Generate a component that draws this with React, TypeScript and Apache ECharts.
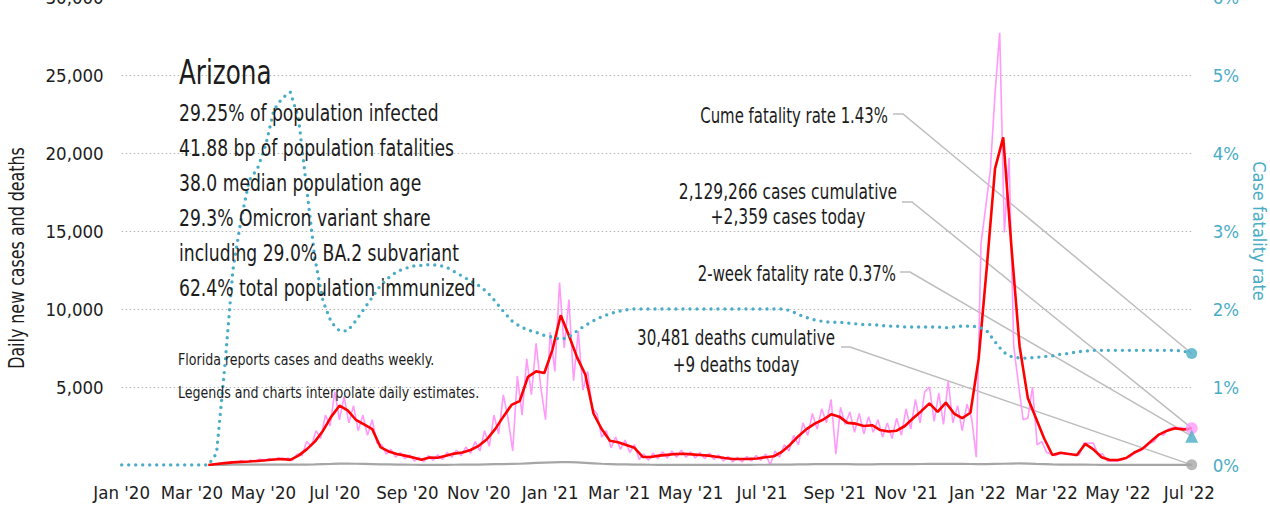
import React, { useEffect, useRef } from "react";
import * as echarts from "echarts";

const FONT = "'Liberation Sans Narrow', 'Arial Narrow', 'DejaVu Sans Condensed', sans-serif";
const TEAL = "#4aacc6";
const PINK = "#ff99fa";
const RED = "#ff0000";
const GRAY = "#a6a6a6";
const LEADER = "#bdbdbd";
const INK = "#1c1c1c";

const START_UTC = Date.UTC(2020, 0, 1);
const END_DAY = 914; // 2022-07-03

const tickDates = [
  "2020-01-01", "2020-03-01", "2020-05-01", "2020-07-01", "2020-09-01", "2020-11-01",
  "2021-01-01", "2021-03-01", "2021-05-01", "2021-07-01", "2021-09-01", "2021-11-01",
  "2022-01-01", "2022-03-01", "2022-05-01", "2022-07-01",
];
const tickLabels = [
  "Jan '20", "Mar '20", "May '20", "Jul '20", "Sep '20", "Nov '20",
  "Jan '21", "Mar '21", "May '21", "Jul '21", "Sep '21", "Nov '21",
  "Jan '22", "Mar '22", "May '22", "Jul '22",
];

// weekly series start on 2020-01-05 (day 4), step 7 days
const WEEK_START_DAY = 4;
// daily (raw) series sampled every 4 days from 2020-01-03 (day 2)
const RAW_START_DAY = 2;
const RAW_STEP = 4;

// 7-day average of new cases (weekly samples)
const casesAvg: (number | null)[] = [
  null, null, null, null, null, null, null, null, null, null,
  0, 60, 120, 170, 200, 220, 260, 300, 350, 380,
  330, 600, 1000, 1500, 2200, 3100, 3800, 3500, 2900, 2600,
  2300, 1150, 870, 700, 600, 480, 340, 480, 460, 600,
  730, 800, 960, 1230, 1650, 2300, 3100, 3850, 4100, 5650,
  6000, 5900, 7400, 9600, 8300, 6900, 5800, 3300, 2300, 1550,
  1460, 1280, 1100, 520, 510, 600, 650, 700, 720, 680,
  640, 600, 530, 450, 380, 380, 390, 420, 500, 560,
  850, 1300, 1850, 2300, 2650, 2900, 3250, 3100, 2700, 2650,
  2500, 2550, 2240, 2150, 2200, 2500, 3000, 3450, 3950, 3400,
  4000, 3300, 3000, 3350, 6800, 12700, 19000, 21000, 14000, 7600,
  4300, 3000, 1700, 640, 780, 700, 640, 1350, 1000, 500,
  320, 320, 450, 800, 1050, 1500, 1950, 2200, 2350, 2280,
  2360,
];

// raw daily new cases (every 4 days)
const casesDaily: (number | null)[] = [
  null, null, null, null, null, null, null, null, null, null,
  null, null, null, null, null, null, null, null, null, 0,
  80, 150, 120, 220, 160, 260, 180, 300, 220, 380,
  250, 420, 300, 480, 320, 450, 300, 700, 600, 1500,
  1200, 2200, 1700, 3200, 2500, 4700, 2900, 4400, 2700, 3800,
  2200, 3200, 1900, 2900, 1400, 1300, 700, 1000, 500, 800,
  400, 650, 250, 500, 200, 600, 300, 650, 350, 800,
  500, 950, 600, 1150, 750, 1500, 900, 2200, 1200, 3200,
  2000, 4500, 3000, 900, 5700, 3200, 6800, 4500, 7800, 5000,
  2900, 8500, 6000, 11700, 7500, 10600, 5400, 8600, 4800, 6000,
  3600, 3300, 1800, 2200, 1100, 1800, 1000, 1600, 800, 1300,
  350, 700, 300, 750, 400, 850, 450, 900, 500, 950,
  500, 850, 450, 800, 400, 750, 350, 650, 250, 550,
  200, 500, 200, 550, 250, 600, 300, 700, 0, 900,
  500, 1300, 900, 1900, 1300, 2700, 1900, 3300, 2300, 3600,
  2700, 4200, 700, 3700, 2600, 3400, 2100, 3300, 2000, 3100,
  2100, 2900, 1800, 2700, 1700, 3000, 1900, 3600, 2300, 4200,
  2700, 4700, 5000, 2800, 4600, 2600, 5400, 2700, 3800, 2200,
  3900, 3000, 500, 14200, 16500, 18900, 23800, 27700, 14900, 19700,
  7600, 5200, 2900, 3000, 5000, 1300, 1500, 800, 700, 600,
  750, 700, 750, 600, 650, 1400, 1400, 1400, 700, 700,
  250, 250, 250, 300, 450, 550, 800, 900, 1100, 1400,
  1500, 2000, 1900, 2300, 2400, 2400, 2400, 2200, 2359,
];

// daily deaths (weekly samples)
const deathsAvg: (number | null)[] = [
  null, null, null, null, null, null, null, null, null, null,
  0, 5, 10, 15, 20, 20, 20, 18, 20, 22,
  20, 25, 30, 40, 60, 70, 85, 90, 80, 70,
  60, 45, 35, 25, 20, 15, 10, 12, 10, 12,
  15, 20, 25, 30, 40, 50, 60, 70, 80, 110,
  130, 150, 170, 180, 190, 170, 140, 110, 80, 60,
  40, 35, 25, 20, 15, 10, 10, 10, 12, 10,
  10, 8, 8, 10, 10, 10, 12, 15, 15, 20,
  25, 30, 40, 45, 50, 50, 55, 50, 50, 45,
  45, 45, 50, 50, 55, 55, 60, 65, 70, 70,
  75, 70, 70, 65, 60, 60, 70, 80, 90, 100,
  90, 70, 60, 40, 30, 25, 20, 20, 15, 10,
  10, 8, 8, 5, 5, 5, 5, 5, 5, 5,
  9,
];

// case fatality rate, % (weekly samples)
const cfrPct: number[] = [
  0, 0, 0, 0, 0, 0, 0, 0, 0, 0,
  0, 0.15, 1.25, 2.5, 3.15, 3.65, 3.8, 4.1, 4.55, 4.7,
  4.78, 4.45, 3.55, 2.65, 2.1, 1.83, 1.72, 1.72, 1.85, 2.0,
  2.15, 2.3, 2.4, 2.48, 2.52, 2.55, 2.56, 2.57, 2.56, 2.54,
  2.48, 2.42, 2.36, 2.3, 2.22, 2.1, 1.97, 1.85, 1.78, 1.73,
  1.7, 1.66, 1.64, 1.61, 1.64, 1.72, 1.79, 1.85, 1.9, 1.94,
  1.97, 1.99, 2.0, 2.0, 2.0, 2.0, 2.0, 2.0, 2.0, 2.0,
  2.0, 2.0, 2.0, 2.0, 2.0, 2.0, 2.0, 2.0, 2.0, 2.0,
  2.0, 1.98, 1.93, 1.89, 1.86, 1.84, 1.83, 1.83, 1.82, 1.81,
  1.8, 1.8, 1.79, 1.78, 1.78, 1.77, 1.77, 1.77, 1.77, 1.77,
  1.76, 1.77, 1.78, 1.78, 1.77, 1.72, 1.58, 1.45, 1.39, 1.37,
  1.37, 1.38, 1.39, 1.4, 1.42, 1.43, 1.45, 1.46, 1.47, 1.47,
  1.47, 1.47, 1.47, 1.47, 1.47, 1.47, 1.47, 1.47, 1.47, 1.46,
  1.43,
];

const cumeFatalityRate = 1.43;
const twoWeekFatalityRate = 0.37;
const casesToday = 2359;
const deathsToday = 9;

const stateName = "Arizona";
const infoLines = [
  "29.25% of population infected",
  "41.88 bp of population fatalities",
  "38.0 median population age",
  "29.3% Omicron variant share",
  "including 29.0% BA.2 subvariant",
  "62.4% total population immunized",
];
const noteLines = [
  "Florida reports cases and deaths weekly.",
  "Legends and charts interpolate daily estimates.",
];

function dayOf(s: string): number {
  const [y, m, d] = s.split("-").map(Number);
  return Math.round((Date.UTC(y, m - 1, d) - START_UTC) / 86400000);
}
const tickDays = tickDates.map(dayOf);

const weekly = (arr: (number | null)[]) =>
  arr.map((v, k) => [WEEK_START_DAY + 7 * k, v]);
const raw = (arr: (number | null)[]) =>
  arr.map((v, j) => [RAW_START_DAY + RAW_STEP * j, v]);

function txt(
  text: string,
  x: number,
  y: number,
  size: number,
  sx: number,
  align: string = "left",
  fill: string = INK,
  extra: any = {}
) {
  return {
    type: "text",
    x,
    y,
    scaleX: sx,
    z: 20,
    ...extra,
    style: {
      text,
      fill,
      fontSize: size,
      fontFamily: FONT,
      textAlign: align,
      align,
      textVerticalAlign: "middle",
      verticalAlign: "middle",
    },
  };
}

export default function App() {
  const ref = useRef<HTMLDivElement>(null);

  useEffect(() => {
    if (!ref.current) return;
    const chart = echarts.init(ref.current, null, { renderer: "svg" });

    const option: any = {
      animation: false,
      grid: {
        left: 121.7,
        right: 1270 - 1191.7,
        top: -3,
        bottom: 508 - 465,
        containLabel: false,
        outerBoundsMode: "none",
      },
      xAxis: {
        type: "value",
        min: 0,
        max: END_DAY,
        axisLine: { show: false },
        axisTick: { show: false, customValues: tickDays },
        splitLine: { show: false },
        axisLabel: {
          customValues: tickDays,
          formatter: (v: number) => {
            const i = tickDays.indexOf(Math.round(v));
            return i >= 0 ? tickLabels[i] : "";
          },
          color: INK,
          fontSize: 18.5,
          fontFamily: FONT,
          margin: 18,
          showMinLabel: true,
          showMaxLabel: true,
          hideOverlap: false,
        },
      },
      yAxis: [
        {
          type: "value",
          min: 0,
          max: 30000,
          interval: 5000,
          axisLine: { show: false },
          axisTick: { show: false },
          axisLabel: {
            formatter: (v: number) => (v === 0 ? "" : v.toLocaleString("en-US")),
            color: INK,
            fontSize: 18.5,
            fontFamily: FONT,
            margin: 18,
          },
          splitLine: {
            show: true,
            showMinLine: false,
            lineStyle: { color: "#b5b5b5", type: [1.5, 2.5], width: 1 },
          },
        },
        {
          type: "value",
          min: 0,
          max: 6,
          interval: 1,
          position: "right",
          axisLine: { show: false },
          axisTick: { show: false },
          splitLine: { show: false },
          axisLabel: {
            formatter: (v: number) => v + "%",
            color: TEAL,
            fontSize: 18.5,
            fontFamily: FONT,
            margin: 21,
          },
          name: "Case fatality rate",
          nameLocation: "middle",
          nameRotate: -90,
          nameGap: 48,
          nameTextStyle: { color: TEAL, fontSize: 18, fontFamily: FONT },
        },
      ],
      series: [
        {
          name: "Daily cases",
          type: "line",
          data: raw(casesDaily),
          showSymbol: false,
          symbol: "none",
          lineStyle: { color: PINK, width: 1.6 },
          z: 2,
        },
        {
          name: "Deaths",
          type: "line",
          data: weekly(deathsAvg),
          showSymbol: false,
          symbol: "none",
          lineStyle: { color: GRAY, width: 2.2 },
          z: 3,
        },
        {
          name: "7-day average",
          type: "line",
          data: weekly(casesAvg),
          showSymbol: false,
          symbol: "none",
          lineStyle: { color: RED, width: 2.6 },
          z: 4,
        },
        {
          name: "Case fatality rate",
          type: "line",
          yAxisIndex: 1,
          data: [[0, cfrPct[0]], ...weekly(cfrPct)],
          showSymbol: false,
          symbol: "none",
          lineStyle: { color: TEAL, width: 3.4, type: [0, 7], cap: "round" },
          z: 5,
        },
        {
          type: "scatter",
          yAxisIndex: 1,
          data: [[END_DAY, cumeFatalityRate]],
          symbol: "circle",
          symbolSize: 11,
          itemStyle: { color: TEAL },
          z: 10,
        },
        {
          type: "scatter",
          yAxisIndex: 0,
          data: [[END_DAY, casesToday]],
          symbol: "circle",
          symbolSize: 12,
          itemStyle: { color: PINK },
          z: 10,
        },
        {
          type: "scatter",
          yAxisIndex: 1,
          data: [[END_DAY, twoWeekFatalityRate]],
          symbol: "triangle",
          symbolSize: 13,
          itemStyle: { color: TEAL },
          z: 11,
        },
        {
          type: "scatter",
          yAxisIndex: 0,
          data: [[END_DAY, deathsToday]],
          symbol: "circle",
          symbolSize: 11,
          itemStyle: { color: GRAY },
          z: 10,
        },
      ],
    };
    chart.setOption(option);

    const px = (x: number, y: number, yi: number) =>
      chart.convertToPixel({ xAxisIndex: 0, yAxisIndex: yi }, [x, y]) as number[];
    const pCfr = px(END_DAY, cumeFatalityRate, 1);
    const pCases = px(END_DAY, casesToday, 0);
    const pTwo = px(END_DAY, twoWeekFatalityRate, 1);
    const pDeaths = px(END_DAY, deathsToday, 0);

    const leader = (a: number[], b: number[], c: number[]) => ({
      type: "polyline",
      z: 1,
      shape: { points: [a, b, c] },
      style: { stroke: LEADER, lineWidth: 1.5, fill: null },
    });

    const elements: any[] = [
      txt(stateName, 179, 73, 33, 0.83),
      ...infoLines.map((t, i) => txt(t, 179, 113 + 35 * i, 23, 0.83)),
      ...noteLines.map((t, i) => txt(t, 178, 360 + 33 * i, 16.5, 0.85)),
      txt("Daily new cases and deaths", 17, 258, 21, 0.84, "center", INK, { rotation: Math.PI / 2 }),
      txt(`Cume fatality rate ${cumeFatalityRate.toFixed(2)}%`, 888, 115, 21, 0.79, "right"),
      txt("2,129,266 cases cumulative", 788, 192, 21, 0.82, "center"),
      txt(`+${casesToday.toLocaleString("en-US")} cases today`, 788, 217, 21, 0.82, "center"),
      txt(`2-week fatality rate ${twoWeekFatalityRate.toFixed(2)}%`, 896, 273, 21, 0.79, "right"),
      txt("30,481 deaths cumulative", 736, 337, 21, 0.8, "center"),
      txt(`+${deathsToday} deaths today`, 736, 364, 21, 0.8, "center"),
      leader([893, 114], [903, 114], pCfr),
      leader([902, 202], [912, 202], pCases),
      leader([900, 272], [910, 272], pTwo),
      leader([841, 347], [850, 347], pDeaths),
    ];
    chart.setOption({ graphic: { elements } });

    return () => chart.dispose();
  }, []);

  return (
    <div
      ref={ref}
      style={{ position: "absolute", left: 0, top: 0, width: 1270, height: 508, background: "#fff" }}
    />
  );
}
